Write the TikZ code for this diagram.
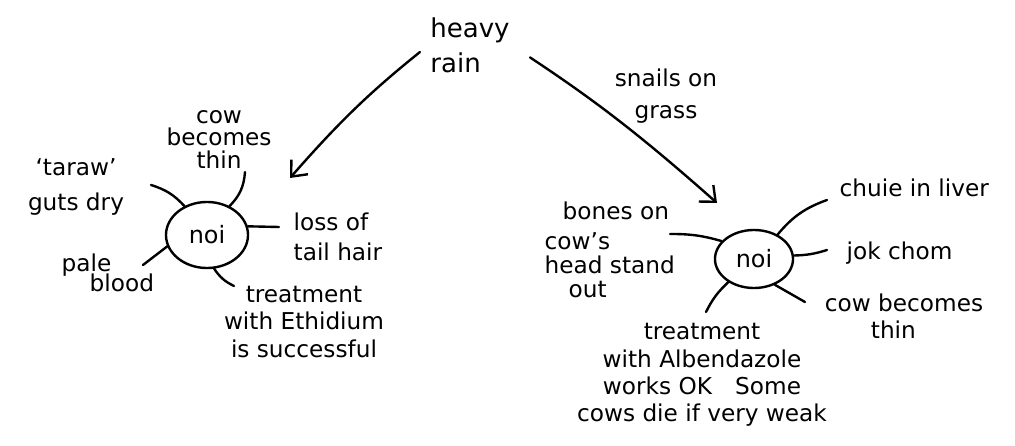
\documentclass[tikz,border=0pt]{standalone}
\usepackage{fontspec}
\setmainfont{DejaVu Sans}
\usetikzlibrary{arrows.meta}
\usetikzlibrary{shapes.geometric}

\begin{document}
\begin{tikzpicture}[x=0.025cm, y=-0.025cm,
    hand/.style={line width=1.7pt, line cap=round},
    lbl/.style={font=\fontsize{16.5}{19.5}\selectfont, inner sep=1pt},
    noi/.style={ellipse, draw, line width=1.7pt, inner sep=0pt, font=\fontsize{17}{20}\selectfont},
    arr/.style={hand, -{Straight Barb[length=3.2mm,width=5.5mm]}}]
    \useasboundingbox (0,0) rectangle (1015,446);

    % cause and the two ways it goes
    \node[lbl, font=\fontsize{18.5}{22}\selectfont, align=left] (rain) at (470,45) {heavy\\[3pt]rain};
    \node[lbl, align=center] (snails) at (666,96) {snails on\\[3pt]grass};
    \coordinate (tipL) at (290,178);
    \coordinate (tipR) at (717,203);
    \draw[arr, shorten <=8pt] (rain.west) to[bend right=5] (tipL);
    \draw[arr, shorten <=16pt] (rain.east) to[bend left=4] (tipR);

    % left noi
    \node[noi, minimum width=2.05cm, minimum height=1.65cm] (noiL) at (207,235) {noi};
    \node[lbl, align=center] (tarawL) at (76,187) {‘taraw’\\[5pt]guts dry};
    \node[lbl, align=center] (thinL) at (219,140) {cow\\[-4pt]becomes\\[-3pt]thin};
    \node[lbl, align=left, anchor=west] (tailL) at (292,237) {loss of\\[2pt]tail hair};
    \node[lbl, align=left, anchor=west] (paleL) at (60,273) {pale\\[-5pt]\hspace*{0.7cm}blood};
    \node[lbl, align=center] (ethL) at (304,322) {treatment\\with Ethidium\\is successful};

    \coordinate (sTaraw) at (151,185);
    \coordinate (sThinL) at (245,172);
    \coordinate (sTail) at (279,227);
    \coordinate (sPale) at (143,265);
    \coordinate (sEth) at (234,286);
    \draw[hand] (noiL.128) to[bend right=15] (sTaraw);
    \draw[hand] (noiL.52) to[bend right=20] (sThinL);
    \draw[hand] (noiL.12) -- (sTail);
    \draw[hand] (noiL.196) -- (sPale);
    \draw[hand] (noiL.282) to[bend right=15] (sEth);

    % right noi
    \node[noi, minimum width=1.95cm, minimum height=1.45cm] (noiR) at (754,259) {noi};
    \node[lbl, anchor=west] (liverR) at (838,188) {chuie in liver};
    \node[lbl, anchor=west] (jokR) at (845,253) {jok chom};
    \node[lbl, align=left] (thinR) at (904,316) {cow becomes\\\hspace*{1.15cm}thin};
    \node[lbl, align=left, anchor=west] (bonesR) at (543,250) {\hspace*{0.45cm}bones on\\[2pt]cow’s\\[-2.5pt]head stand\\[-2.5pt]\hspace*{0.6cm}out};
    \node[lbl, align=center] (albR) at (702,375) {treatment\\with Albendazole\\works OK\quad Some\\cows die if very weak};

    \coordinate (sLiver) at (827,200);
    \coordinate (sJok) at (827,250);
    \coordinate (sThinR) at (805,302);
    \coordinate (sAlb) at (706,312);
    \coordinate (sBones) at (670,234);
    \draw[hand] (noiR.46) to[bend left=15] (sLiver);
    \draw[hand] (noiR.5) to[bend right=8] (sJok);
    \draw[hand] (noiR.-51) -- (sThinR);
    \draw[hand] (noiR.222) to[bend right=10] (sAlb);
    \draw[hand] (noiR.151) to[bend right=8] (sBones);
\end{tikzpicture}
\end{document}
